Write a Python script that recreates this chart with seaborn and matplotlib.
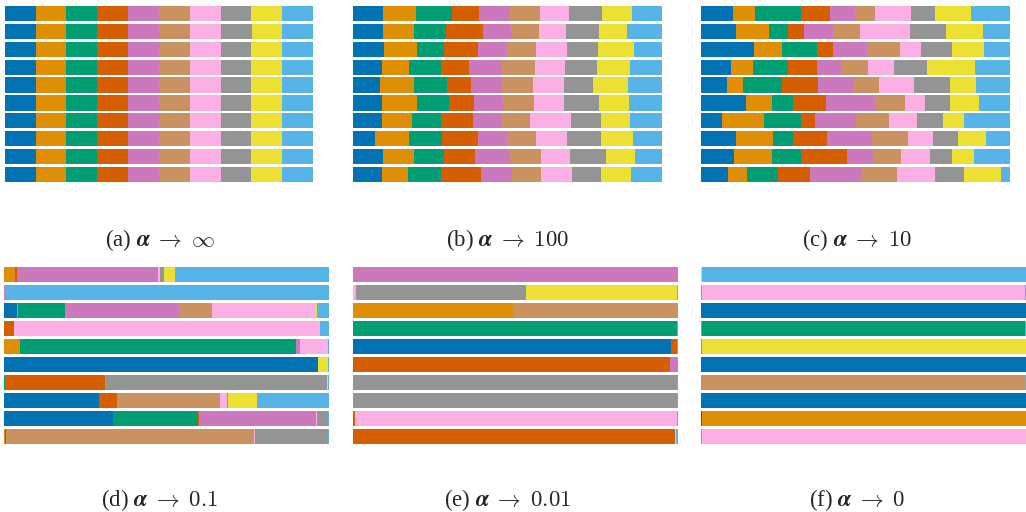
### Bibliotecas
import matplotlib
matplotlib.use("Agg")
import matplotlib.pyplot as plt
import pandas as pd
import seaborn as sns

### Amostras de Dirichlet com 10 componentes (proporções em %)
componentes = list(range(10))

alfa_inf = [
    [10.1, 9.7, 10.1, 10.1, 10.1, 10.1, 10.1, 9.7, 10.1, 10.1],
    [10.1, 9.7, 10.1, 10.1, 10.1, 10.1, 10.1, 10.1, 9.7, 10.1],
    [10.1, 9.7, 10.1, 10.1, 10.1, 10.1, 10.1, 9.7, 10.1, 10.1],
    [10.1, 9.7, 10.1, 10.1, 10.1, 10.1, 10.1, 9.7, 10.1, 10.1],
    [10.1, 9.7, 10.1, 10.1, 10.1, 10.1, 10.1, 9.7, 10.1, 10.1],
    [10.1, 9.7, 10.1, 10.1, 10.1, 10.1, 10.1, 9.7, 10.1, 10.1],
    [10.1, 9.7, 10.1, 10.1, 10.1, 10.1, 10.1, 9.7, 10.1, 10.1],
    [10.1, 9.7, 10.1, 10.1, 10.1, 10.1, 10.1, 9.7, 10.1, 10.1],
    [10.1, 9.7, 10.1, 10.1, 10.1, 10.1, 10.1, 9.7, 10.1, 10.1],
    [10.1, 9.7, 10.1, 10.1, 10.1, 10.1, 10.1, 9.7, 10.1, 10.1],
]

alfa_100 = [
    [9.7, 10.7, 11.7, 8.7, 10.0, 9.7, 9.4, 10.7, 9.7, 9.7],
    [9.7, 10.0, 10.4, 12.0, 9.0, 9.2, 8.7, 10.7, 9.1, 11.3],
    [10.0, 10.7, 8.7, 11.0, 9.3, 9.5, 10.0, 10.0, 11.7, 9.1],
    [9.4, 8.7, 10.4, 9.1, 10.7, 10.7, 9.7, 10.4, 10.7, 10.4],
    [8.7, 11.0, 10.7, 7.8, 10.0, 10.0, 10.0, 9.4, 11.3, 11.0],
    [9.4, 11.3, 10.4, 8.1, 9.4, 10.0, 9.7, 11.3, 9.7, 10.7],
    [9.4, 9.7, 9.4, 10.4, 9.4, 9.1, 13.3, 9.7, 9.4, 10.4],
    [7.1, 11.0, 10.7, 11.7, 9.4, 9.4, 10.0, 11.0, 10.4, 9.4],
    [9.7, 10.0, 9.7, 10.0, 11.3, 10.0, 9.4, 11.7, 9.4, 8.7],
    [9.4, 8.4, 10.7, 12.9, 10.0, 9.4, 10.0, 9.4, 9.7, 10.0],
]

alfa_10 = [
    [10.4, 7.1, 14.9, 9.4, 8.1, 6.5, 11.7, 7.8, 11.7, 12.6],
    [11.4, 10.7, 6.2, 5.2, 9.1, 8.8, 16.2, 11.7, 12.0, 8.8],
    [17.2, 9.1, 11.3, 5.2, 11.0, 10.7, 6.8, 10.0, 10.4, 8.4],
    [9.7, 7.1, 11.3, 9.4, 7.7, 9.0, 8.4, 10.6, 15.5, 11.3],
    [8.4, 5.2, 12.6, 11.6, 11.9, 8.1, 11.3, 11.6, 8.4, 11.0],
    [14.6, 8.4, 6.8, 10.7, 15.9, 9.7, 6.5, 8.1, 9.4, 10.0],
    [6.8, 13.6, 12.0, 4.5, 13.3, 10.4, 9.1, 8.4, 6.8, 14.9],
    [11.3, 12.0, 6.5, 11.0, 14.6, 11.7, 8.1, 8.1, 9.1, 7.8],
    [10.7, 12.3, 9.4, 14.9, 8.7, 8.7, 9.4, 7.1, 7.1, 11.7],
    [8.7, 6.2, 10.1, 10.4, 16.2, 11.7, 12.3, 9.4, 12.0, 2.9],
]

alfa_01 = [
    [0.0, 3.4, 0.0, 0.6, 43.4, 0.0, 0.6, 1.2, 3.4, 47.4],
    [0.0, 0.0, 0.0, 0.0, 0.3, 0.0, 0.0, 0.0, 0.0, 99.7],
    [4.0, 0.3, 14.5, 0.0, 34.9, 10.2, 31.8, 0.0, 0.6, 3.7],
    [0.0, 0.0, 0.0, 3.1, 0.0, 0.0, 94.1, 0.0, 0.0, 2.8],
    [0.0, 4.9, 84.9, 0.0, 1.2, 0.0, 8.6, 0.0, 0.0, 0.3],
    [96.6, 0.0, 0.0, 0.0, 0.0, 0.0, 0.0, 0.0, 3.1, 0.3],
    [0.0, 0.0, 0.3, 30.8, 0.0, 0.3, 0.0, 68.0, 0.3, 0.3],
    [29.3, 0.0, 0.0, 5.6, 0.0, 31.5, 2.2, 0.3, 9.0, 22.2],
    [33.6, 0.0, 25.9, 0.3, 36.1, 0.0, 0.3, 3.4, 0.0, 0.3],
    [0.0, 0.3, 0.3, 0.0, 0.0, 76.3, 0.3, 22.5, 0.0, 0.3],
]

alfa_001 = [
    [0.0, 0.0, 0.0, 0.0, 99.7, 0.0, 0.0, 0.0, 0.0, 0.3],
    [0.0, 0.0, 0.0, 0.0, 0.0, 0.0, 0.9, 52.3, 46.5, 0.3],
    [0.0, 49.5, 0.0, 0.0, 0.0, 50.2, 0.0, 0.0, 0.0, 0.3],
    [0.0, 0.0, 99.7, 0.0, 0.0, 0.0, 0.0, 0.0, 0.0, 0.3],
    [97.8, 0.0, 0.0, 1.8, 0.0, 0.0, 0.0, 0.0, 0.0, 0.3],
    [0.0, 0.0, 0.0, 97.5, 2.2, 0.0, 0.0, 0.0, 0.0, 0.3],
    [0.0, 0.0, 0.0, 0.0, 0.0, 0.0, 0.0, 99.7, 0.0, 0.3],
    [0.0, 0.0, 0.0, 0.0, 0.0, 0.0, 0.0, 99.7, 0.0, 0.3],
    [0.0, 0.0, 0.0, 0.6, 0.0, 0.0, 99.1, 0.0, 0.0, 0.3],
    [0.0, 0.0, 0.0, 99.1, 0.0, 0.0, 0.0, 0.0, 0.3, 0.6],
]

alfa_0 = [
    [0.0, 0.0, 0.0, 0.0, 0.0, 0.0, 0.0, 0.0, 0.3, 99.7],
    [0.0, 0.0, 0.0, 0.0, 0.0, 0.3, 99.4, 0.0, 0.0, 0.3],
    [100.0, 0.0, 0.0, 0.0, 0.0, 0.0, 0.0, 0.0, 0.0, 0.0],
    [0.0, 0.3, 99.4, 0.0, 0.0, 0.0, 0.0, 0.0, 0.0, 0.3],
    [0.0, 0.0, 0.0, 0.0, 0.0, 0.0, 0.0, 0.3, 99.7, 0.0],
    [100.0, 0.0, 0.0, 0.0, 0.0, 0.0, 0.0, 0.0, 0.0, 0.0],
    [0.0, 0.0, 0.0, 0.0, 0.3, 99.4, 0.0, 0.0, 0.0, 0.3],
    [100.0, 0.0, 0.0, 0.0, 0.0, 0.0, 0.0, 0.0, 0.0, 0.0],
    [0.3, 99.7, 0.0, 0.0, 0.0, 0.0, 0.0, 0.0, 0.0, 0.0],
    [0.0, 0.0, 0.0, 0.0, 0.0, 0.3, 99.7, 0.0, 0.0, 0.0],
]

titulos = [
    r"(a) $\boldsymbol{\alpha}\;\rightarrow\;\infty$",
    r"(b) $\boldsymbol{\alpha}\;\rightarrow\;100$",
    r"(c) $\boldsymbol{\alpha}\;\rightarrow\;10$",
    r"(d) $\boldsymbol{\alpha}\;\rightarrow\;0.1$",
    r"(e) $\boldsymbol{\alpha}\;\rightarrow\;0.01$",
    r"(f) $\boldsymbol{\alpha}\;\rightarrow\;0$",
]
amostras = [alfa_inf, alfa_100, alfa_10, alfa_01, alfa_001, alfa_0]

### Estilo
sns.set_style("white")
plt.rcParams["font.family"] = ["Liberation Serif", "DejaVu Serif"]
plt.rcParams["mathtext.fontset"] = "cm"
cores = sns.color_palette("colorblind", 10)

W, H = 1026, 512
fig = plt.figure(figsize = (W / 100, H / 100), dpi = 100)

# caixas dos painéis em pixels (esquerda, topo, direita, base)
caixas = [(5, 6, 313, 182), (353, 6, 662, 182), (701, 6, 1010, 182),
          (4, 267, 329, 444), (353, 267, 678, 444), (701, 267, 1026, 444)]
centros_titulo = [160, 508, 857]

for i, (amostra, titulo) in enumerate(zip(amostras, titulos)):
    esq, topo, dir_, base = caixas[i]
    ax = fig.add_axes([esq / W, 1 - base / H, (dir_ - esq) / W, (base - topo) / H])

    tabela = pd.DataFrame([
        {"linha": r, "comp": k, "valor": v}
        for r, linha in enumerate(amostra) for k, v in zip(componentes, linha)
    ])
    sns.histplot(data = tabela, y = "linha", hue = "comp", weights = "valor",
                 multiple = "fill", discrete = True, shrink = 0.85,
                 hue_order = componentes[::-1], palette = cores[::-1],
                 alpha = 1, linewidth = 0, legend = False, ax = ax)
    ax.set_xlim(0, 1)
    ax.set_ylim(9.425, -0.425)
    ax.set_axis_off()

    cx = centros_titulo[i % 3]
    cy = 240 if i < 3 else 500
    fig.text(cx / W, 1 - cy / H, titulo, ha = "center", va = "center", size = 16.5)

plt.savefig("out.png", dpi = 100)
